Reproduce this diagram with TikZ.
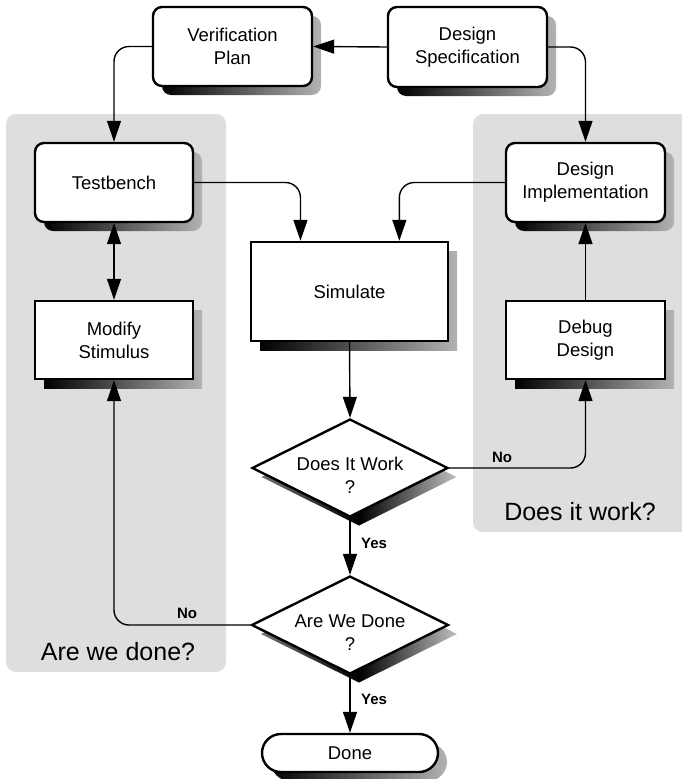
\documentclass[tikz,border=0pt]{standalone}
\usepackage{fontspec}
\setmainfont{Liberation Sans}
\usetikzlibrary{shapes.geometric,arrows.meta,shadows,calc}

\begin{document}
\begin{tikzpicture}[x=1pt,y=-1pt,
  boxtext/.style={font=\fontsize{18.5}{23}\selectfont, align=center},
  boxshadow/.style={general shadow={left color=black, right color=black!30,
      shadow xshift=9pt, shadow yshift=-9pt}},
  diamshadow/.style={general shadow={left color=black!55, right color=black!25,
      middle color=black, shadow xshift=9pt, shadow yshift=-9pt}},
  plainbox/.style={draw, line width=2.4pt, fill=white, inner sep=0pt,
      minimum width=158pt, minimum height=78pt, boxtext, boxshadow},
  roundbox/.style={plainbox, rounded corners=9pt},
  decision/.style={draw, diamond, line width=2.4pt, fill=white, inner sep=0pt,
      minimum width=196pt, minimum height=98pt, diamshadow},
  panel/.style={fill=black!13, rounded corners=10pt},
  panellabel/.style={font=\fontsize{25}{30}\selectfont},
  tip/.tip={Triangle[length=21pt,width=14pt]},
  conn/.style={draw, line width=1.4pt, -tip},
  elbow/.style={conn, rounded corners=15pt},
  branch/.style={font=\bfseries\fontsize{15}{18}\selectfont}
]
\useasboundingbox (0,0) rectangle (682,779);

% grey panels behind the two loops
\fill[panel] (6,114) rectangle (226,672);
\fill[panel] (473,114) rectangle (692,532);
\node[panellabel] (lpanel) at (118,652) {Are we done?};
\node[panellabel] (rpanel) at (580,512) {Does it work?};

% process boxes
\node[roundbox, minimum width=159pt, minimum height=79pt] (vplan) at (232.5,46.5) {Verification\\Plan};
\node[roundbox, minimum width=159pt, minimum height=80pt] (dspec) at (467.5,47) {Design\\Specification};
\node[roundbox, minimum height=79pt] (tbench) at (114,182.5) {Testbench};
\node[plainbox] (modify) at (114,340) {Modify\\Stimulus};
\node[roundbox, minimum width=159pt, minimum height=79pt] (dimpl) at (585.5,182.5) {Design\\Implementation};
\node[plainbox, minimum width=159pt] (debug) at (585.5,340) {Debug\\Design};
\node[plainbox, minimum width=197pt, minimum height=99pt] (sim) at (349.5,291.5) {Simulate};

% decisions
\node[decision] (work) at (350,468) {};
\node[boxtext] (worktext) at (350,475) {Does It Work\\?};
\node[decision, minimum width=197pt] (alldone) at (350,625) {};
\node[boxtext] (alldonetext) at (350,633) {Are We Done\\?};

% terminal
\node[plainbox, rounded corners=19pt, minimum width=176pt, minimum height=38pt] (fin) at (350,753) {Done};

% connectors
\draw[conn] (dspec.west) -- (vplan.east);
\draw[elbow] (vplan.west) -| (tbench.north);
\draw[elbow] (dspec.east) -| (dimpl.north);
\draw[elbow] (tbench.east) -| ($(sim.north west)!0.254!(sim.north east)$);
\draw[elbow] (dimpl.west) -| ($(sim.north west)!0.75!(sim.north east)$);
\draw[conn, tip-tip] (tbench.south) -- (modify.north);
\draw[conn] (debug.north) -- (dimpl.south);
\draw[conn] (sim.south) -- (work.north);
\draw[elbow] (work.east) -| (debug.south);
\draw[conn] (work.south) -- (alldone.north);
\draw[elbow] (alldone.west) -| (modify.south);
\draw[conn] (alldone.south) -- (fin.north);

% branch labels
\node[branch] (noright) at (502,457) {No};
\node[branch] (noleft) at (187,613) {No};
\node[branch] (yesone) at (374,543) {Yes};
\node[branch] (yestwo) at (374,699) {Yes};
\end{tikzpicture}
\end{document}
